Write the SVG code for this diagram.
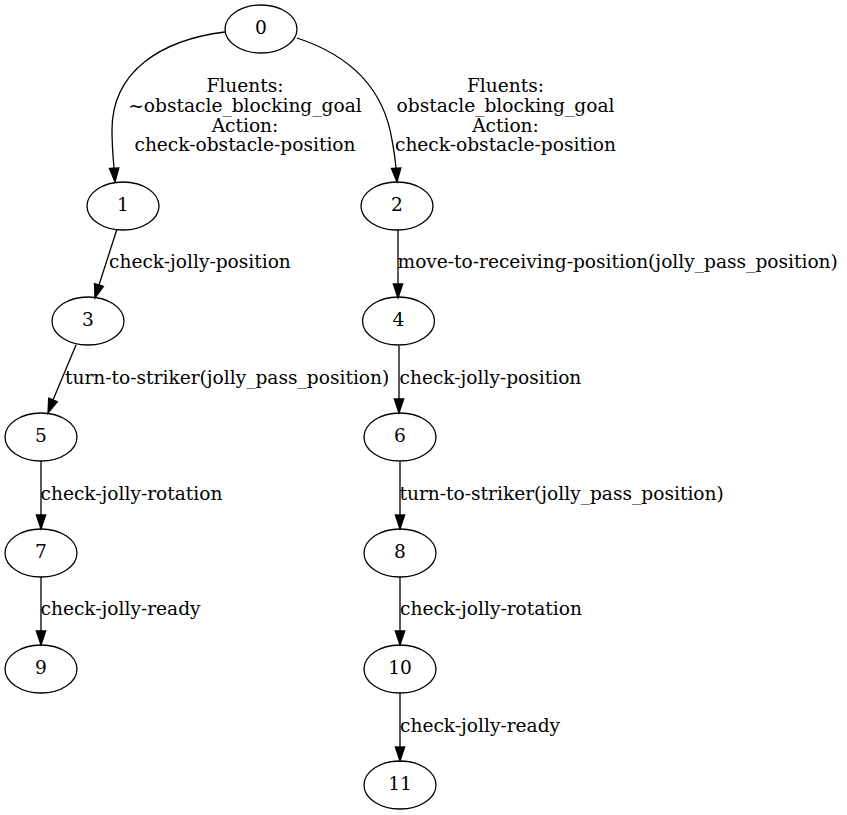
<svg xmlns="http://www.w3.org/2000/svg" width="847" height="815" viewBox="0 0 847 815">
<style>
.n ellipse{fill:none;stroke:#000;stroke-width:1.3}
text{font-family:"DejaVu Serif","Liberation Serif",serif;font-size:18.6px;fill:#000}
.n text{text-anchor:middle}
.e path{fill:none;stroke:#000;stroke-width:1.3}
.e polygon{fill:#000;stroke:#000;stroke-width:1.3}
.lm{text-anchor:middle}
</style>
<rect width="847" height="815" fill="#fff"/>
<g id="edges" class="e">
<g id="e0_1">
<path d="M225,32 C160,40 112,72 112,130 C112,145 113,157 114,168"/>
<polygon points="109.5,168.5 118.8,168 115,182"/>
<text class="lm" x="245" y="92">Fluents:</text>
<text class="lm" x="245" y="112">~obstacle_blocking_goal</text>
<text class="lm" x="245" y="131.5">Action:</text>
<text class="lm" x="245" y="151">check-obstacle-position</text>
</g>
<g id="e0_2">
<path d="M297,38 C352,56 384,90 392,140 C394,150 395,158 396,168"/>
<polygon points="391.5,168.5 400.8,168 397,182"/>
<text class="lm" x="505.5" y="92">Fluents:</text>
<text class="lm" x="505.5" y="112">obstacle_blocking_goal</text>
<text class="lm" x="505.5" y="131.5">Action:</text>
<text class="lm" x="505.5" y="151">check-obstacle-position</text>
</g>
<g id="e1_3">
<path d="M117,229 L99,285"/>
<polygon points="94.5,283.5 103.4,286.3 95,298"/>
<text x="109" y="268">check-jolly-position</text>
</g>
<g id="e2_4">
<path d="M398,230 L398,284"/>
<polygon points="393.3,284 402.7,284 398,298"/>
<text x="397.5" y="268">move-to-receiving-position(jolly_pass_position)</text>
</g>
<g id="e3_5">
<path d="M76,345 L53,400"/>
<polygon points="48.7,398.2 57.3,401.8 48,413"/>
<text x="65" y="384">turn-to-striker(jolly_pass_position)</text>
</g>
<g id="e4_6">
<path d="M399,346 L399,399"/>
<polygon points="394.3,399 403.7,399 399,413"/>
<text x="399.5" y="384">check-jolly-position</text>
</g>
<g id="e5_7">
<path d="M41,461 L41,515"/>
<polygon points="36.3,515 45.7,515 41,529"/>
<text x="40.5" y="500">check-jolly-rotation</text>
</g>
<g id="e6_8">
<path d="M400,462 L400,515"/>
<polygon points="395.3,515 404.7,515 400,529"/>
<text x="399.5" y="500">turn-to-striker(jolly_pass_position)</text>
</g>
<g id="e7_9">
<path d="M41,577 L41,631"/>
<polygon points="36.3,631 45.7,631 41,645"/>
<text x="40.5" y="615">check-jolly-ready</text>
</g>
<g id="e8_10">
<path d="M400,577 L400,631"/>
<polygon points="395.3,631 404.7,631 400,645"/>
<text x="400" y="615">check-jolly-rotation</text>
</g>
<g id="e10_11">
<path d="M400,693 L400,747"/>
<polygon points="395.3,747 404.7,747 400,761"/>
<text x="400" y="731.5">check-jolly-ready</text>
</g>
</g>
<g id="node0" class="n"><ellipse cx="261" cy="29" rx="36" ry="24"/><text x="261" y="34">0</text></g>
<g id="node1" class="n"><ellipse cx="123" cy="206" rx="36" ry="24"/><text x="123" y="211">1</text></g>
<g id="node2" class="n"><ellipse cx="397" cy="206" rx="36" ry="24"/><text x="397" y="211">2</text></g>
<g id="node3" class="n"><ellipse cx="88" cy="321" rx="36" ry="24"/><text x="88" y="326">3</text></g>
<g id="node4" class="n"><ellipse cx="398.5" cy="321" rx="36" ry="24"/><text x="398.5" y="326">4</text></g>
<g id="node5" class="n"><ellipse cx="41" cy="437" rx="36" ry="24"/><text x="41" y="442">5</text></g>
<g id="node6" class="n"><ellipse cx="400" cy="437" rx="36" ry="24"/><text x="400" y="442">6</text></g>
<g id="node7" class="n"><ellipse cx="41" cy="553" rx="36" ry="24"/><text x="41" y="558">7</text></g>
<g id="node8" class="n"><ellipse cx="400" cy="553" rx="36" ry="24"/><text x="400" y="558">8</text></g>
<g id="node9" class="n"><ellipse cx="41" cy="669" rx="36" ry="24"/><text x="41" y="674">9</text></g>
<g id="node10" class="n"><ellipse cx="400" cy="669" rx="36" ry="24"/><text x="400" y="674">10</text></g>
<g id="node11" class="n"><ellipse cx="400" cy="785" rx="36" ry="24"/><text x="400" y="790">11</text></g>
</svg>
